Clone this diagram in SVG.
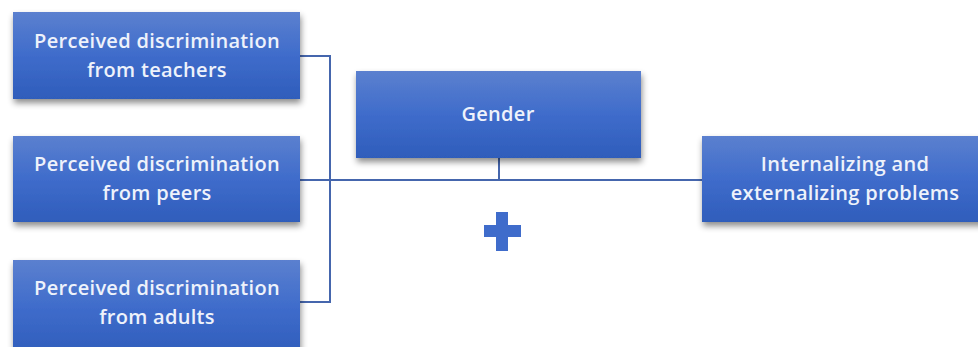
<svg xmlns="http://www.w3.org/2000/svg" width="978" height="347" viewBox="0 0 978 347">
<defs>
<linearGradient id="g" x1="0" y1="0" x2="0" y2="1">
<stop offset="0" stop-color="#5b80cf"/>
<stop offset="0.5" stop-color="#3f6ccb"/>
<stop offset="1" stop-color="#2f5dbb"/>
</linearGradient>
<filter id="sh" x="-10%" y="-10%" width="125%" height="140%">
<feDropShadow dx="1" dy="4" stdDeviation="3" flood-color="#000" flood-opacity="0.45"/>
</filter>
</defs>
<style>
.box{fill:url(#g);filter:url(#sh);}
.t{font-family:"Open Sans","Noto Sans",sans-serif;font-size:20px;font-weight:600;letter-spacing:0.3px;fill:#eef2fb;text-anchor:middle;}
.c{stroke:#4566ad;stroke-width:2;fill:none;}
</style>
<rect width="978" height="347" fill="#fff"/>
<g id="connectors">
<polyline class="c" points="300,56 330,56 330,302 300,302"/>
<line class="c" x1="300" y1="180" x2="702" y2="180"/>
<line class="c" x1="499" y1="158" x2="499" y2="180"/>
</g>
<g id="n1">
<rect class="box" x="13" y="12" width="287" height="87"/>
<text class="t" x="157" y="48">Perceived discrimination</text>
<text class="t" x="157" y="77">from teachers</text>
</g>
<g id="n2">
<rect class="box" x="13" y="136" width="287" height="86"/>
<text class="t" x="157" y="171">Perceived discrimination</text>
<text class="t" x="157" y="200">from peers</text>
</g>
<g id="n3">
<rect class="box" x="13" y="260" width="287" height="95"/>
<text class="t" x="157" y="295">Perceived discrimination</text>
<text class="t" x="157" y="324">from adults</text>
</g>
<g id="gender">
<rect class="box" x="356" y="71" width="285" height="87"/>
<text class="t" x="498" y="121">Gender</text>
</g>
<g id="outcome">
<rect class="box" x="702" y="136" width="290" height="86"/>
<text class="t" x="845" y="171">Internalizing and</text>
<text class="t" x="845" y="200">externalizing problems</text>
</g>
<g id="plus">
<path d="M496,212 h12 v13 h13 v12 h-13 v14 h-12 v-14 h-12 v-12 h12 z" fill="#3f6ccb"/>
</g>
</svg>
